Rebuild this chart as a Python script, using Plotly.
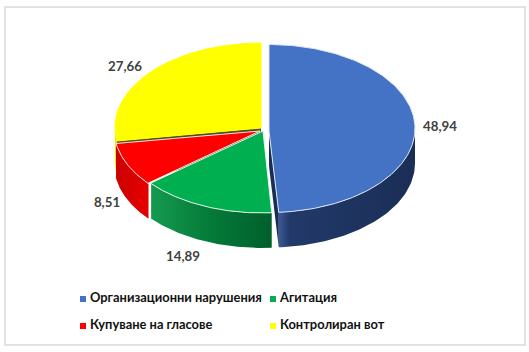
import numpy as np
import plotly.graph_objects as go

categories = ["Организационни нарушения", "Агитация", "Купуване на гласове", "Контролиран вот"]
values = [48.94, 14.89, 8.51, 27.66]
value_labels = ["48,94", "14,89", "8,51", "27,66"]
top_colors = ["#4472C4", "#00B050", "#FF0000", "#FFFF00"]
wall_scales = [
    [[0, "#3A5A94"], [0.08, "#22396A"], [1, "#1A2E55"]],
    [[0, "#159A50"], [0.5, "#047A38"], [1, "#005F2B"]],
    [[0, "#CC0000"], [1, "#E60000"]],
    [[0, "#E8E800"], [1, "#E8E800"]],
]
edge_colors = ["#DCE5F5", "#E2F6EA", "#FFE3E3", "#FFFF00"]
centers = [(269, 128.5), (262, 129), (260, 129.5), (261, 127)]
apexes = [(269, 131), (263, 131), (260, 131), (261, 128)]
RX, RY, DEPTH = 146, 84, 35
label_pos = [(440, 128), (183, 258), (107, 204), (125, 68)]
legend_pos = [(83, 299), (273, 299), (83, 326), (273, 326)]
LEGEND_GAP = 7

fig = go.Figure()
pct = np.cumsum([0] + values) / sum(values) * 360


def rim(i, a0, a1, n=80):
    t = np.radians(np.linspace(a0, a1, n))
    cx, cy = centers[i]
    return cx + RX * np.sin(t), cy - RY * np.cos(t)


def gradient(i, x):
    return dict(type="horizontal", colorscale=wall_scales[i], start=float(np.min(x)), stop=float(np.max(x)))


def poly(x, y, **kw):
    fig.add_trace(go.Scatter(x=list(x), y=list(y), mode="lines", fill="toself", hoverinfo="skip", showlegend=False, **kw))


# back-to-front order: blue, yellow, red, green
for i in [0, 3, 2, 1]:
    a0, a1 = pct[i], pct[i + 1]
    ax, ay = apexes[i]
    # outer wall, the part of the rim facing the viewer
    f0, f1 = max(a0, 90), min(a1, 270)
    if f1 > f0:
        x, y = rim(i, f0, f1)
        wx = np.r_[x, x[::-1], x[0]]
        wy = np.r_[y, y[::-1] + DEPTH, y[0]]
        poly(wx, wy, line=dict(color="rgba(0,0,0,0)", width=0), fillgradient=gradient(i, wx))
    # cut face of the wedge
    if i in (0, 3):
        ang = a1 if i == 0 else a0
        x, y = rim(i, ang, ang, 1)
        poly([ax, x[0], x[0], ax, ax], [ay, y[0], y[0] + DEPTH, ay + DEPTH, ay],
             line=dict(color="rgba(0,0,0,0)", width=0),
             fillcolor="#1A2E55" if i == 0 else "#4E4E20")
    # white seam at the left end of the green wall
    if i == 1:
        x, y = rim(i, a1, a1, 1)
        fig.add_trace(go.Scatter(x=[x[0], x[0]], y=[y[0], y[0] + DEPTH], mode="lines",
                                 line=dict(color="#FFFFFF", width=1.2), hoverinfo="skip", showlegend=False))
    # top face
    x, y = rim(i, a0, a1, 160)
    poly(np.r_[ax, x, ax], np.r_[ay, y, ay], line=dict(color=edge_colors[i], width=1), fillcolor=top_colors[i])

# value labels
fig.add_trace(go.Scatter(
    x=[p[0] for p in label_pos], y=[p[1] for p in label_pos], mode="text", text=[f"<b>{t}</b>" for t in value_labels],
    textfont=dict(family="Lato", size=13.3, color="#404040"), textposition="middle center",
    hoverinfo="skip", showlegend=False))

# legend
for i, name in enumerate(categories):
    fig.add_trace(go.Scatter(
        x=[legend_pos[i][0]], y=[legend_pos[i][1]], mode="markers",
        marker=dict(symbol="square", size=6, color=top_colors[i]),
        hoverinfo="skip", showlegend=False))
    fig.add_trace(go.Scatter(
        x=[legend_pos[i][0] + LEGEND_GAP], y=[legend_pos[i][1]], mode="text", text=[f"<b>{name}</b>"],
        textposition="middle right", textfont=dict(family="Lato", size=12.9, color="#111111"),
        hoverinfo="skip", showlegend=False))

fig.update_layout(
    width=529, height=352, autosize=False,
    margin=dict(l=0, r=0, t=0, b=0),
    paper_bgcolor="white", plot_bgcolor="white",
    xaxis=dict(range=[0, 529], visible=False, fixedrange=True),
    yaxis=dict(range=[352, 0], visible=False, fixedrange=True),
    shapes=[dict(type="rect", xref="x", yref="y", x0=5, y0=7, x1=525, y1=345,
                 line=dict(color="#D9D9D9", width=1.5), layer="below")],
)
fig.write_html("out.html", config=dict(displayModeBar=False),
               post_script="document.body.style.margin='0';document.documentElement.style.overflow='hidden';")
